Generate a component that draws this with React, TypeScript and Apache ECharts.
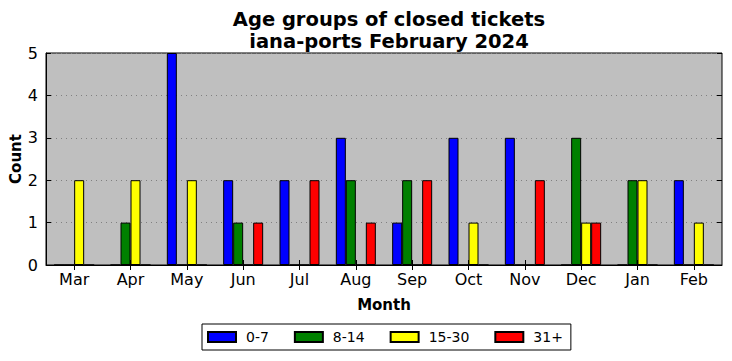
import React, { useEffect, useRef } from "react";
import * as echarts from "echarts";

const months = ["Mar", "Apr", "May", "Jun", "Jul", "Aug", "Sep", "Oct", "Nov", "Dec", "Jan", "Feb"];
const s0_7 = [0, 0, 5, 2, 2, 3, 1, 3, 3, 0, 0, 2];
const s8_14 = [0, 1, 0, 1, 0, 2, 2, 0, 0, 3, 2, 0];
const s15_30 = [2, 2, 2, 0, 0, 0, 0, 1, 0, 1, 2, 1];
const s31 = [0, 0, 0, 1, 2, 1, 2, 0, 2, 1, 0, 0];
const seriesNames = ["0-7", "8-14", "15-30", "31+"];
const seriesColors = ["#0000ff", "#008000", "#ffff00", "#ff0000"];
const titleLines = ["Age groups of closed tickets", "iana-ports February 2024"];

const FONT = "DejaVu Sans";

export default function App() {
  const ref = useRef<HTMLDivElement>(null);
  useEffect(() => {
    if (!ref.current) return;
    const chart = echarts.init(ref.current, null, { renderer: "svg" });
    const data = [s0_7, s8_14, s15_30, s31];
    chart.setOption({
      animation: false,
      textStyle: { fontFamily: FONT },
      title: {
        text: titleLines.join("\n"),
        left: 384,
        textAlign: "center",
        top: 3,
        textStyle: { fontFamily: FONT, fontSize: 19.5, fontWeight: "bold", color: "#000", lineHeight: 22 },
      },
      grid: {
        left: 46,
        right: 10,
        top: 53,
        bottom: 96,
        show: true,
        backgroundColor: "#bfbfbf",
        borderColor: "#000",
        borderWidth: 1,
        containLabel: false,
        outerBoundsMode: "none",
      },
      legend: {
        bottom: 11,
        left: 202,
        orient: "horizontal",
        itemWidth: 28,
        itemHeight: 10,
        itemGap: 25,
        padding: [6, 8, 6, 5],
        borderColor: "#000",
        borderWidth: 1,
        borderRadius: 0,
        icon: "rect",
        textStyle: { fontFamily: FONT, fontSize: 14, color: "#000", padding: [0, 0, 0, 5] },
        data: seriesNames,
      },
      xAxis: [
        {
          type: "category",
          data: months,
          name: "Month",
          nameLocation: "middle",
          nameGap: 32,
          nameMoveOverlap: false,
          nameTextStyle: { fontFamily: FONT, fontSize: 15, fontWeight: "bold", color: "#000" },
          axisLine: { show: true, lineStyle: { color: "#000" } },
          axisTick: { show: true, inside: true, alignWithLabel: true, length: 5, lineStyle: { color: "#000" } },
          axisLabel: { fontFamily: FONT, fontSize: 16, color: "#000", margin: 6 },
          splitLine: { show: false },
        },
        {
          type: "category",
          data: months,
          position: "top",
          axisLine: { show: false },
          axisTick: { show: true, inside: true, alignWithLabel: true, length: 5, lineStyle: { color: "#000" } },
          axisLabel: { show: false },
          splitLine: { show: false },
        },
      ],
      yAxis: [
        {
          type: "value",
          min: 0,
          max: 5,
          interval: 1,
          name: "Count",
          nameLocation: "middle",
          nameGap: 23,
          nameMoveOverlap: false,
          nameRotate: 90,
          nameTextStyle: { fontFamily: FONT, fontSize: 15, fontWeight: "bold", color: "#000" },
          axisLine: { show: true, lineStyle: { color: "#000" } },
          axisTick: { show: true, inside: true, length: 5, lineStyle: { color: "#000" } },
          axisLabel: { fontFamily: FONT, fontSize: 16, color: "#000", margin: 8 },
          splitLine: { show: true, lineStyle: { color: "#808080", type: [1, 4], width: 1 } },
        },
        {
          type: "value",
          min: 0,
          max: 5,
          interval: 1,
          position: "right",
          axisLine: { show: false },
          axisTick: { show: true, inside: true, length: 5, lineStyle: { color: "#000" } },
          axisLabel: { show: false },
          splitLine: { show: false },
        },
      ],
      series: data.map((d, i) => ({
        name: seriesNames[i],
        type: "bar",
        data: d,
        barWidth: 10,
        barGap: "0%",
        itemStyle: { color: seriesColors[i], borderColor: "#000", borderWidth: 1 },
      })),
    });
    return () => chart.dispose();
  }, []);
  return <div ref={ref} style={{ width: 732, height: 361, position: "absolute", left: 0, top: 0 }} />;
}
